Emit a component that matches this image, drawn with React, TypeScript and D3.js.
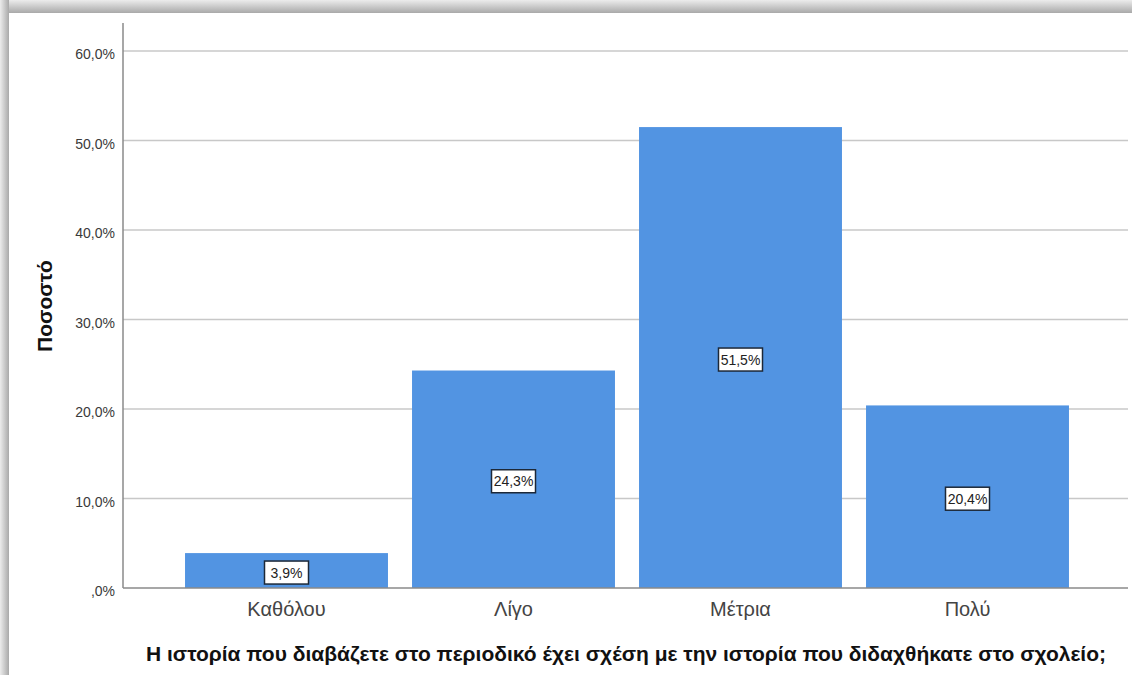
import React, { useEffect, useRef } from 'react';
import * as d3 from 'd3';

const categories = ['Καθόλου', 'Λίγο', 'Μέτρια', 'Πολύ'];
const percents = [3.9, 24.3, 51.5, 20.4];
const yTicks = [0, 10, 20, 30, 40, 50, 60];
const yTitle = 'Ποσοστό';
const xTitle = 'Η ιστορία που διαβάζετε στο περιοδικό έχει σχέση με την ιστορία που διδαχθήκατε στο σχολείο;';

const W = 1132;
const H = 675;
const FONT = '"Liberation Sans", Arial, sans-serif';

const fmt = (v: number) => (v === 0 ? ',0%' : v.toFixed(1).replace('.', ',') + '%');

export default function App() {
  const svgRef = useRef<SVGSVGElement>(null);

  useEffect(() => {
    if (!svgRef.current) return;
    const svg = d3.select(svgRef.current);
    svg.selectAll('*').remove();

    // frame shadow
    const defs = svg.append('defs');
    const gTop = defs.append('linearGradient').attr('id', 'shTop')
      .attr('x1', '0%').attr('y1', '0%').attr('x2', '0%').attr('y2', '100%');
    gTop.append('stop').attr('offset', '0%').attr('stop-color', '#ececec');
    gTop.append('stop').attr('offset', '100%').attr('stop-color', '#a9a9a9');
    const gLeft = defs.append('linearGradient').attr('id', 'shLeft')
      .attr('x1', '0%').attr('y1', '0%').attr('x2', '100%').attr('y2', '0%');
    gLeft.append('stop').attr('offset', '0%').attr('stop-color', '#ececec');
    gLeft.append('stop').attr('offset', '100%').attr('stop-color', '#a9a9a9');

    svg.append('rect').attr('width', W).attr('height', H).attr('fill', '#ffffff');
    svg.append('rect').attr('x', 0).attr('y', 0).attr('width', W).attr('height', 13).attr('fill', 'url(#shTop)');
    svg.append('rect').attr('x', 0).attr('y', 0).attr('width', 9).attr('height', H).attr('fill', 'url(#shLeft)');

    const left = 123;
    const right = 1128;
    const y = d3.scaleLinear().domain([0, 60]).range([588, 51]);
    const x = d3.scaleBand<string>()
      .domain(categories)
      .range([173, 1081])
      .paddingInner(0.106)
      .paddingOuter(0.053);

    // gridlines
    svg.append('g')
      .selectAll('line')
      .data(yTicks.filter(t => t > 0))
      .enter()
      .append('line')
      .attr('x1', left)
      .attr('x2', right)
      .attr('y1', d => y(d))
      .attr('y2', d => y(d))
      .attr('stroke', '#c8c8c8')
      .attr('stroke-width', 1.5);

    // bars
    svg.append('g')
      .selectAll('rect')
      .data(percents)
      .enter()
      .append('rect')
      .attr('x', (_, i) => x(categories[i])!)
      .attr('y', d => y(d))
      .attr('width', x.bandwidth())
      .attr('height', d => y(0) - y(d))
      .attr('fill', '#5294e2');

    // axes lines
    svg.append('line')
      .attr('x1', left).attr('x2', left)
      .attr('y1', 23).attr('y2', y(0))
      .attr('stroke', '#8a8a8a').attr('stroke-width', 1.5);
    svg.append('line')
      .attr('x1', left).attr('x2', right)
      .attr('y1', y(0)).attr('y2', y(0))
      .attr('stroke', '#8a8a8a').attr('stroke-width', 1.5);

    // y tick labels
    svg.append('g')
      .selectAll('text')
      .data(yTicks)
      .enter()
      .append('text')
      .attr('x', 115)
      .attr('y', d => y(d) + 8)
      .attr('text-anchor', 'end')
      .attr('font-family', FONT)
      .attr('font-size', 14)
      .attr('fill', '#3a3a3a')
      .text(d => fmt(d));

    // x tick labels
    svg.append('g')
      .selectAll('text')
      .data(categories)
      .enter()
      .append('text')
      .attr('x', d => x(d)! + x.bandwidth() / 2)
      .attr('y', 616)
      .attr('text-anchor', 'middle')
      .attr('font-family', FONT)
      .attr('font-size', 20)
      .attr('fill', '#444')
      .text(d => d);

    // value labels
    const labels = svg.append('g')
      .selectAll('g')
      .data(percents)
      .enter()
      .append('g')
      .attr('transform', (d, i) =>
        `translate(${x(categories[i])! + x.bandwidth() / 2},${(y(d) + y(0)) / 2 + 2})`);
    labels.append('rect')
      .attr('x', -22)
      .attr('y', -11.5)
      .attr('width', 44)
      .attr('height', 23)
      .attr('fill', '#ffffff')
      .attr('stroke', '#1c2838')
      .attr('stroke-width', 1.5);
    labels.append('text')
      .attr('y', 5)
      .attr('text-anchor', 'middle')
      .attr('font-family', FONT)
      .attr('font-size', 14)
      .attr('fill', '#222')
      .text(d => fmt(d));

    // axis titles
    svg.append('text')
      .attr('transform', 'translate(52,306) rotate(-90)')
      .attr('text-anchor', 'middle')
      .attr('font-family', FONT)
      .attr('font-size', 21)
      .attr('font-weight', 'bold')
      .attr('fill', '#111')
      .text(yTitle);
    svg.append('text')
      .attr('x', 626)
      .attr('y', 661)
      .attr('text-anchor', 'middle')
      .attr('font-family', FONT)
      .attr('font-size', 21)
      .attr('font-weight', 'bold')
      .attr('fill', '#111')
      .text(xTitle);
  }, []);

  return (
    <svg
      ref={svgRef}
      width={W}
      height={H}
      style={{ position: 'absolute', left: 0, top: 0, display: 'block' }}
    />
  );
}
